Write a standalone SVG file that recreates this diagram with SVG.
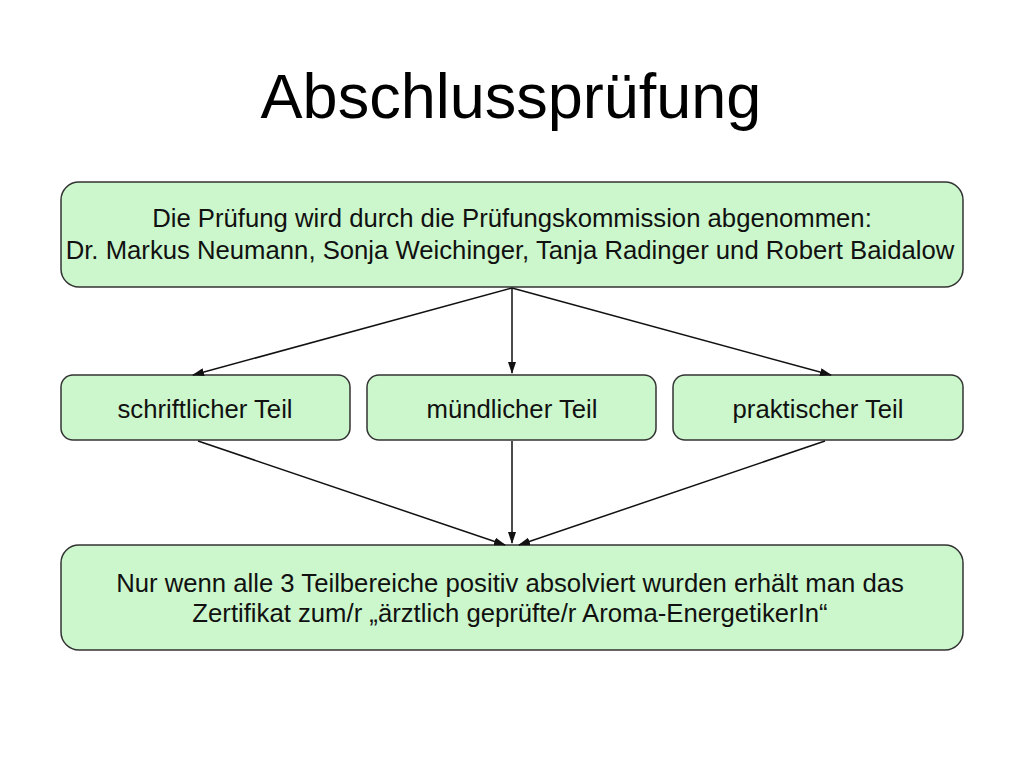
<svg xmlns="http://www.w3.org/2000/svg" width="1024" height="768" viewBox="0 0 1024 768">
<style>
.box{fill:#ccf7cc;stroke:#333;stroke-width:1.5}
.t{font-family:"Liberation Sans",Arial,sans-serif;font-size:25.7px;fill:#111;text-anchor:middle}
.c{stroke:#111;stroke-width:1.5;fill:none;marker-end:url(#a)}
</style>
<defs><marker id="a" markerWidth="12" markerHeight="8" refX="11" refY="4" orient="auto" markerUnits="userSpaceOnUse"><path d="M0,0 L12,4 L0,8 z" fill="#111"/></marker></defs>
<rect width="1024" height="768" fill="#fff"/>
<text x="511" y="118" style="font-family:'Liberation Sans',Arial,sans-serif;font-size:63px;text-anchor:middle;fill:#000">Abschlussprüfung</text>
<g id="n1"><rect class="box" x="61" y="182" width="902" height="105" rx="18"/>
<text class="t" x="512" y="227">Die Prüfung wird durch die Prüfungskommission abgenommen:</text>
<text class="t" x="510" y="259">Dr. Markus Neumann, Sonja Weichinger, Tanja Radinger und Robert Baidalow</text></g>
<g id="n2"><rect class="box" x="61" y="375" width="289" height="65" rx="12"/><text class="t" x="205" y="418">schriftlicher Teil</text></g>
<g id="n3"><rect class="box" x="367" y="375" width="289" height="65" rx="12"/><text class="t" x="512" y="418">mündlicher Teil</text></g>
<g id="n4"><rect class="box" x="673" y="375" width="290" height="65" rx="12"/><text class="t" x="818" y="418">praktischer Teil</text></g>
<g id="n5"><rect class="box" x="61" y="545" width="902" height="105" rx="18"/>
<text class="t" x="510" y="592">Nur wenn alle 3 Teilbereiche positiv absolviert wurden erhält man das</text>
<text class="t" x="510" y="622">Zertifikat zum/r „ärztlich geprüfte/r Aroma-EnergetikerIn“</text></g>
<g id="connectors">
<path class="c" d="M512,288 L193,375"/>
<path class="c" d="M512,288 L512,373"/>
<path class="c" d="M512,288 L831,375"/>
<path class="c" d="M198,441 L505,545"/>
<path class="c" d="M512,441 L512,543"/>
<path class="c" d="M825,441 L519,545"/>
</g>
</svg>
